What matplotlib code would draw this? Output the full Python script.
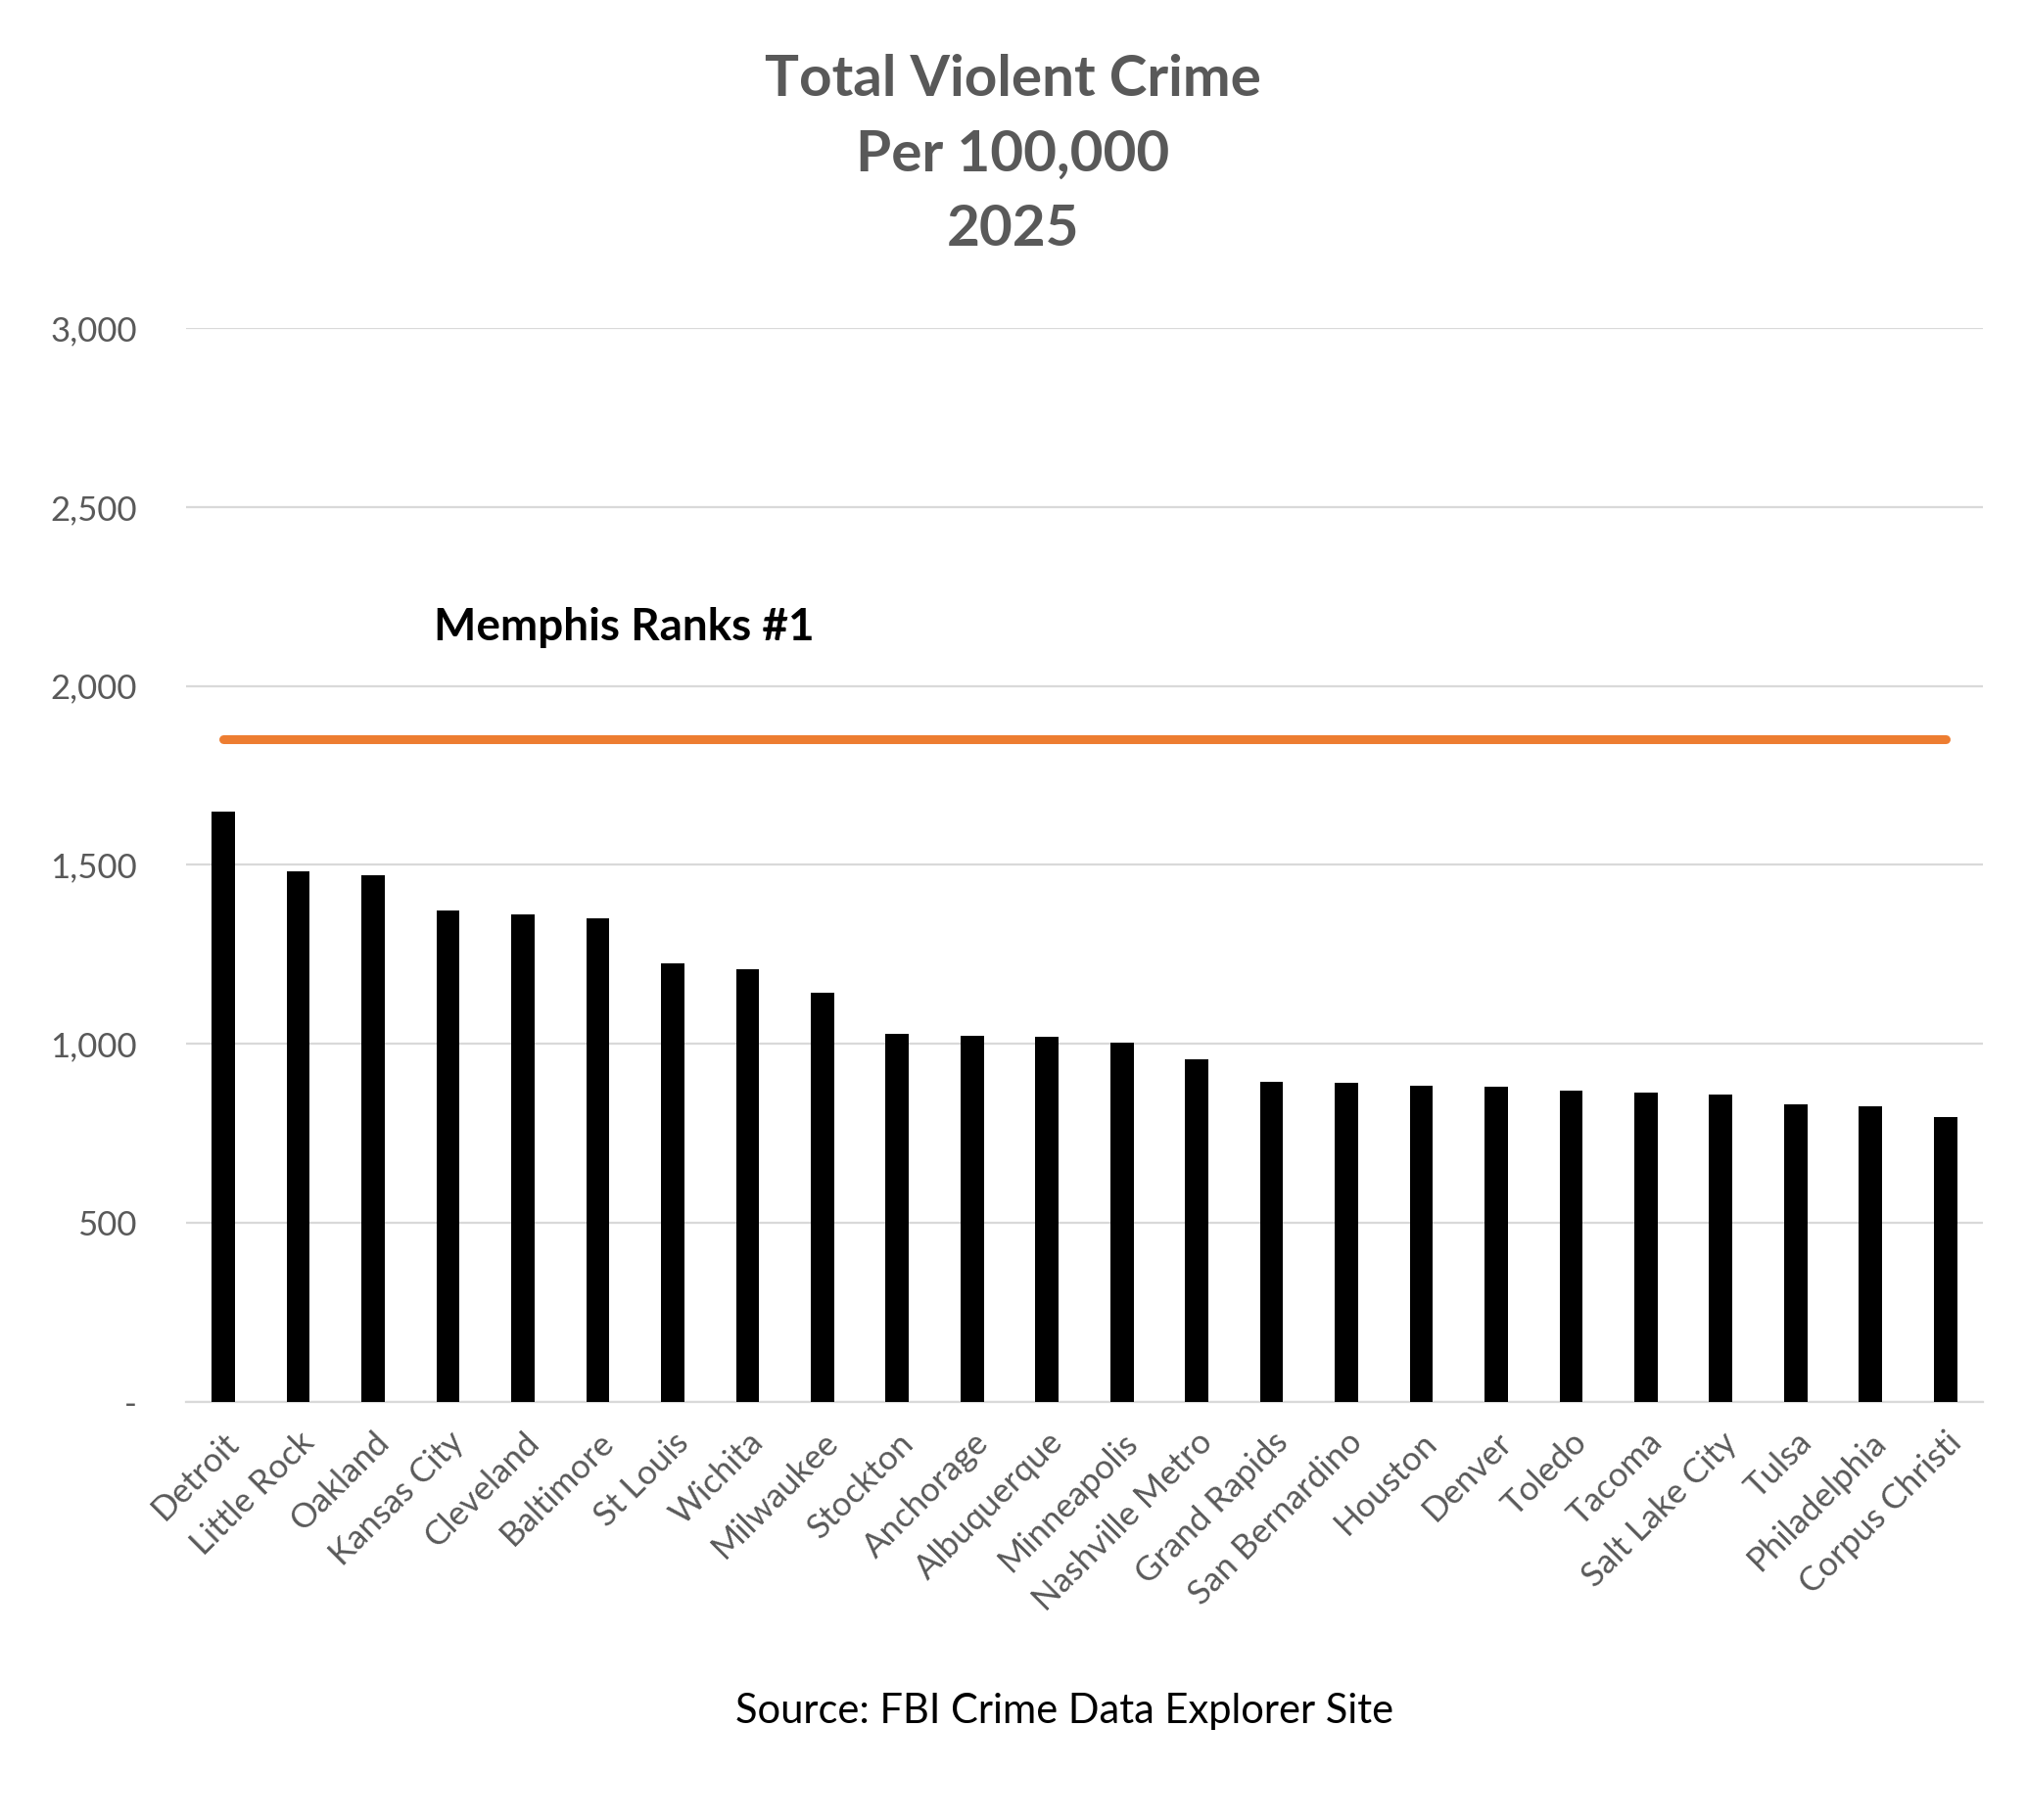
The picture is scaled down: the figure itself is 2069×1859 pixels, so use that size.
import matplotlib.pyplot as plt
from matplotlib.ticker import FuncFormatter
import numpy as np

plt.rcParams['font.family'] = ['Lato', 'DejaVu Sans']

cities = ['Detroit', 'Little Rock', 'Oakland', 'Kansas City', 'Cleveland', 'Baltimore',
          'St Louis', 'Wichita', 'Milwaukee', 'Stockton', 'Anchorage', 'Albuquerque',
          'Minneapolis', 'Nashville Metro', 'Grand Rapids', 'San Bernardino', 'Houston',
          'Denver', 'Toledo', 'Tacoma', 'Salt Lake City', 'Tulsa', 'Philadelphia',
          'Corpus Christi']
rates = [1650, 1483, 1472, 1374, 1363, 1350, 1226, 1208, 1142, 1027, 1024, 1021,
         1003, 956, 894, 891, 884, 880, 869, 864, 860, 830, 827, 795]
memphis = 1851
yticks = [0, 500, 1000, 1500, 2000, 2500, 3000]

grey = '#595959'
grid = '#D9D9D9'

fig = plt.figure(figsize=(20.69, 18.59), dpi=100)
ax = fig.add_axes([0.0918, 0.2297, 0.8869, 0.5901])

x = np.arange(len(cities))
ax.bar(x, rates, width=0.31, color='black', zorder=3)
ax.plot([x[0], x[-1]], [memphis, memphis], color='#ED7D31', linewidth=6.5,
        solid_capstyle='round', zorder=4)

ax.set_xlim(-0.5, len(cities) - 0.5)
ax.set_ylim(0, 3000)
ax.set_yticks(yticks)
ax.yaxis.set_major_formatter(FuncFormatter(lambda v, p: '-' if v == 0 else f'{int(v):,}'))
ax.grid(axis='y', color=grid, linewidth=1.6, zorder=0)
for s in ['top', 'right', 'left']:
    ax.spines[s].set_visible(False)
ax.spines['bottom'].set_color(grid)
ax.spines['bottom'].set_linewidth(1.6)
ax.tick_params(length=0, labelsize=25, labelcolor=grey)
ax.tick_params(axis='y', pad=36)

ax.set_xticks(x)
ax.set_xticklabels(cities, rotation=45, ha='right', rotation_mode='anchor')
ax.tick_params(axis='x', pad=18)

fig.text(0.4998, 0.9705, 'Total Violent Crime\nPer 100,000\n2025', ha='center', va='top',
         fontsize=42, fontweight='bold', color=grey, linespacing=1.55)
fig.text(0.214, 0.655, 'Memphis Ranks #1', ha='left', va='center',
         fontsize=33, fontweight='bold', color='black')
fig.text(0.5255, 0.0595, 'Source: FBI Crime Data Explorer Site', ha='center', va='center',
         fontsize=30, color='black')

fig.savefig('out.png', dpi=100)
